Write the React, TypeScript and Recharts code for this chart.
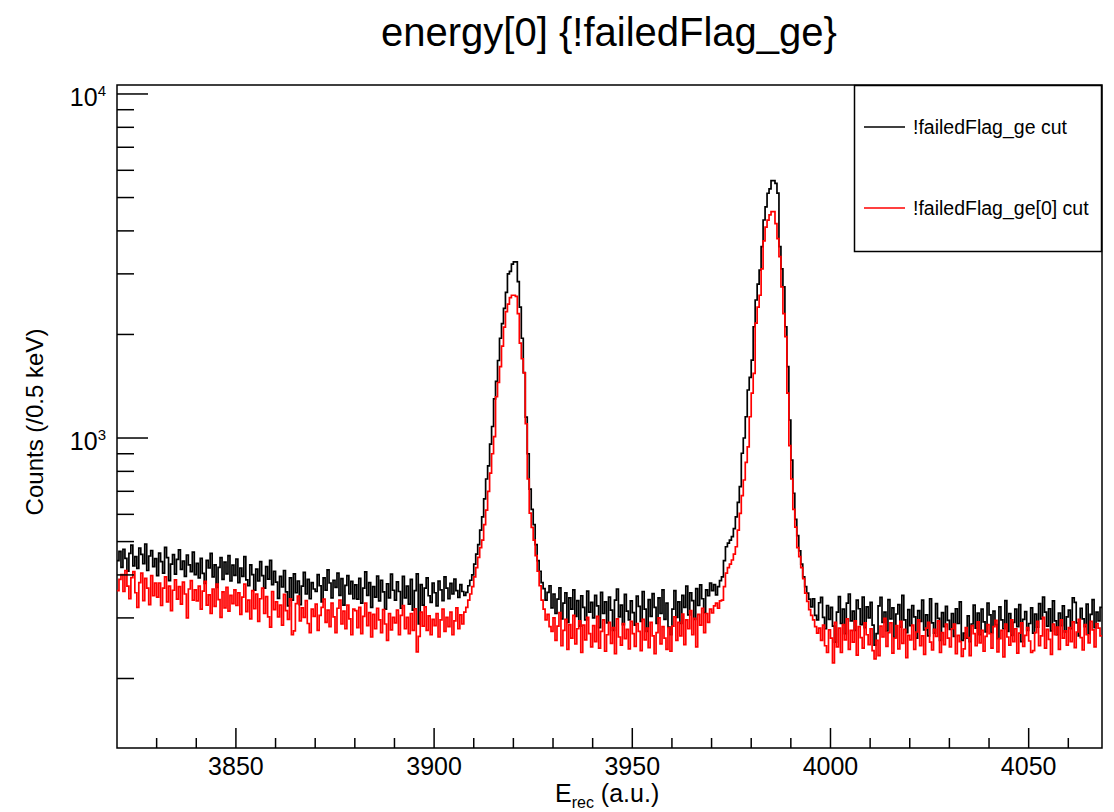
import React from 'react';
import { LineChart, Line, XAxis, YAxis, ReferenceArea } from 'recharts';

const FONT = '"Liberation Sans", Arial, Helvetica, sans-serif';

// histogram binning: 0.5 a.u. per bin starting at 3820
const X_START = 3820;
const BIN_WIDTH = 0.5;
const X_END = 4068.5;
const Y_MIN = 125.6;
const Y_MAX = 10619;

// !failedFlag_ge cut (black)
const countsAll = [
  440, 468, 421, 475, 447, 410, 462, 488, 425, 452, 418, 479, 459, 431, 492, 412, 454, 471, 423, 446,
  398, 463, 437, 405, 481, 449, 385, 430, 458, 402, 444, 473, 415, 439, 396, 457, 428, 409, 466, 401,
  432, 392, 447, 404, 378, 441, 419, 462, 395, 428, 368, 421, 449, 388, 436, 403, 455, 384, 427, 399,
  445, 380, 419, 396, 452, 387, 372, 428, 401, 361, 416, 384, 437, 398, 366, 423, 389, 441, 375, 410,
  381, 342, 396, 369, 412, 357, 325, 392, 338, 403, 355, 384, 328, 371, 407, 352, 388, 341, 380, 364,
  358, 401, 372, 334, 392, 361, 414, 379, 343, 386, 368, 405, 349, 390, 327, 373, 398, 352, 383, 341,
  374, 340, 391, 331, 366, 408, 349, 380, 322, 370, 345, 397, 336, 386, 357, 318, 377, 343, 402, 361,
  338, 382, 358, 320, 396, 343, 371, 329, 388, 316, 360, 403, 288, 375, 327, 366, 392, 348, 333, 379,
  355, 325, 384, 362, 337, 395, 366, 341, 378, 352, 389, 360, 344, 375, 358, 349, 356, 372, 386, 400,
  430, 460, 490, 540, 590, 665, 760, 830, 960, 1080, 1300, 1460, 1680, 1950, 2150, 2380, 2650, 3000, 3050, 3200,
  3250, 3250, 2850, 2400, 1950, 1550, 1150, 900, 710, 620, 560, 490, 440, 410, 380, 365, 338, 356, 372, 321,
  352, 309, 340, 367, 298, 331, 355, 291, 343, 318, 362, 303, 337, 284, 348, 322, 296, 359, 312, 333,
  300, 349, 325, 281, 356, 309, 334, 290, 345, 316, 276, 338, 364, 302, 327, 287, 351, 314, 296, 336,
  311, 286, 347, 324, 293, 358, 318, 274, 339, 303, 353, 322, 289, 343, 309, 362, 297, 331, 282, 268,
  318, 360, 301, 334, 289, 349, 322, 371, 306, 355, 337, 297, 365, 326, 374, 341, 311, 362, 348, 379,
  360, 375, 350, 370, 385, 395, 440, 483, 495, 505, 517, 545, 590, 650, 722, 903, 1000, 1153, 1379, 1500,
  1685, 2106, 2519, 2800, 3078, 3598, 4302, 4700, 5145, 5300, 5600, 5600, 5500, 5150, 3600, 3100, 2750, 2106, 1612, 1128,
  863, 691, 580, 520, 470, 430, 395, 370, 354, 340, 323, 341, 305, 296, 332, 344, 301, 279, 326, 297,
  322, 284, 255, 312, 346, 289, 318, 270, 331, 352, 294, 314, 276, 338, 319, 287, 345, 281, 323, 300,
  333, 286, 250, 270, 325, 344, 291, 312, 275, 339, 298, 321, 263, 308, 328, 282, 349, 296, 272, 317,
  285, 326, 302, 262, 315, 293, 338, 277, 306, 266, 341, 290, 271, 330, 299, 258, 311, 283, 324, 295,
  278, 309, 265, 319, 289, 334, 258, 271, 262, 304, 256, 288, 327, 280, 310, 268, 318, 292, 273, 331,
  306, 272, 314, 287, 261, 323, 296, 279, 337, 274, 309, 267, 291, 318, 283, 328, 256, 297, 313, 276,
  289, 321, 271, 308, 282, 330, 298, 345, 312, 284, 319, 275, 336, 294, 268, 310, 285, 325, 273, 302,
  316, 279, 343, 333, 290, 266, 320, 298, 283, 329, 270, 307, 339, 281, 312, 294, 322,
];

// !failedFlag_ge[0] cut (red)
const countsFirst = [
  360, 388, 401, 358, 412, 371, 341, 393, 409, 355, 322, 380, 405, 337, 391, 366, 328, 398, 348, 379,
  345, 379, 326, 366, 395, 334, 371, 315, 361, 387, 340, 370, 329, 381, 352, 300, 364, 385, 338, 362,
  336, 371, 318, 359, 383, 327, 350, 309, 364, 324, 376, 339, 301, 357, 321, 368, 314, 349, 330, 362,
  326, 355, 307, 345, 376, 313, 338, 298, 360, 319, 352, 293, 341, 366, 309, 346, 302, 282, 358, 317,
  334, 302, 327, 286, 351, 315, 297, 341, 268, 275, 330, 347, 294, 321, 301, 337, 289, 272, 318, 303,
  329, 276, 305, 322, 340, 291, 316, 283, 331, 302, 272, 320, 338, 288, 314, 279, 327, 298, 268, 318,
  315, 281, 322, 270, 303, 331, 285, 311, 264, 307, 279, 320, 296, 272, 317, 288, 258, 309, 277, 301,
  290, 316, 268, 305, 326, 279, 301, 270, 309, 276, 319, 239, 265, 312, 284, 323, 276, 304, 268, 297,
  285, 309, 264, 296, 318, 274, 301, 283, 312, 268, 294, 321, 279, 306, 288, 312, 322, 338, 352, 370,
  395, 420, 450, 480, 505, 560, 617, 700, 791, 900, 1010, 1318, 1450, 1612, 1850, 2100, 2330, 2450, 2560, 2600,
  2600, 2580, 2300, 1887, 1700, 1546, 1100, 760, 605, 550, 505, 455, 410, 372, 338, 318, 296, 307, 283, 274,
  300, 258, 284, 311, 249, 276, 297, 243, 287, 262, 305, 252, 279, 294, 238, 286, 259, 301, 270, 247,
  285, 256, 303, 245, 274, 296, 240, 268, 291, 253, 281, 236, 298, 264, 250, 289, 261, 278, 244, 293,
  270, 248, 289, 274, 241, 297, 259, 280, 246, 291, 266, 236, 272, 300, 252, 283, 262, 243, 281, 240,
  284, 302, 258, 291, 266, 308, 251, 296, 279, 315, 268, 299, 247, 307, 286, 320, 272, 309, 291, 318,
  310, 325, 331, 320, 336, 338, 370, 405, 420, 430, 442, 460, 483, 540, 604, 680, 755, 850, 943, 1153,
  1350, 1542, 2157, 2400, 2600, 3100, 3740, 4100, 4300, 4450, 4550, 4550, 4200, 3800, 3365, 2750, 2300, 1970, 1350, 950,
  760, 620, 551, 480, 452, 420, 390, 354, 335, 317, 305, 296, 283, 271, 280, 258, 286, 249, 238, 277,
  262, 222, 291, 247, 280, 238, 287, 259, 298, 243, 276, 255, 294, 234, 283, 263, 245, 290, 268, 251,
  279, 241, 228, 258, 233, 284, 264, 299, 248, 272, 290, 237, 262, 285, 244, 293, 253, 278, 230, 267,
  259, 286, 243, 273, 296, 249, 266, 235, 280, 291, 255, 242, 278, 265, 294, 238, 272, 251, 288, 262,
  247, 279, 288, 236, 267, 256, 232, 244, 281, 263, 233, 285, 270, 249, 292, 254, 276, 240, 265, 287,
  270, 245, 283, 295, 239, 261, 276, 231, 288, 264, 250, 296, 256, 279, 237, 271, 290, 248, 267, 281,
  257, 238, 241, 272, 293, 249, 266, 301, 245, 278, 260, 235, 288, 268, 282, 243, 296, 262, 275, 250,
  281, 256, 292, 246, 273, 297, 263, 242, 287, 268, 254, 293, 277, 247, 289, 280, 266,
];

const xTicks = [
  3830, 3840, 3850, 3860, 3870, 3880, 3890, 3900, 3910, 3920, 3930, 3940, 3950,
  3960, 3970, 3980, 3990, 4000, 4010, 4020, 4030, 4040, 4050, 4060,
];
const yTicks = [
  200, 300, 400, 500, 600, 700, 800, 900, 1000,
  2000, 3000, 4000, 5000, 6000, 7000, 8000, 9000, 10000,
];

// step-after points on the low bin edges, plus one closing point at the right edge
const data = countsAll.map((v, i) => ({
  x: X_START + i * BIN_WIDTH,
  all: v,
  first: countsFirst[i],
}));
data.push({
  x: X_START + countsAll.length * BIN_WIDTH,
  all: countsAll[countsAll.length - 1],
  first: countsFirst[countsFirst.length - 1],
});

const XTick = (props: any) => {
  const { x, y, payload } = props;
  const major = payload.value % 50 === 0;
  return (
    <g>
      <line x1={x} x2={x} y1={y} y2={y - (major ? 20 : 10)} stroke="#000" strokeWidth={1.5} />
      {major && (
        <text x={x} y={y + 27} textAnchor="middle" fontSize={25} fontFamily={FONT} fill="#000">
          {payload.value}
        </text>
      )}
    </g>
  );
};

const YTick = (props: any) => {
  const { x, y, payload } = props;
  const exp = Math.round(Math.log10(payload.value));
  const major = Math.abs(Math.pow(10, exp) - payload.value) < 1e-6;
  return (
    <g>
      <line x1={x} x2={x + (major ? 31 : 17)} y1={y} y2={y} stroke="#000" strokeWidth={1.5} />
      {major && (
        <text x={x - 11} y={y + 12} textAnchor="end" fontSize={25} fontFamily={FONT} fill="#000">
          10<tspan dy={-10} fontSize={15}>{exp}</tspan>
        </text>
      )}
    </g>
  );
};

export default function App() {
  return (
    <div style={{ position: 'absolute', left: 0, top: 0, width: 1114, height: 812, background: '#fff' }}>
      <LineChart
        width={1114}
        height={812}
        data={data}
        margin={{ top: 85, right: 12, bottom: 34, left: 57 }}
      >
        <XAxis
          dataKey="x"
          type="number"
          domain={[X_START, X_END]}
          allowDataOverflow
          ticks={xTicks}
          interval={0}
          tick={<XTick />}
          tickSize={0}
          tickMargin={0}
          axisLine={false}
          tickLine={false}
          height={30}
        />
        <YAxis
          scale="log"
          domain={[Y_MIN, Y_MAX]}
          allowDataOverflow
          ticks={yTicks}
          interval={0}
          tick={<YTick />}
          tickSize={0}
          tickMargin={0}
          axisLine={false}
          tickLine={false}
          width={60}
        />
        <ReferenceArea
          x1={X_START}
          x2={X_END}
          y1={Y_MIN}
          y2={Y_MAX}
          fill="none"
          stroke="#000"
          strokeWidth={1.5}
        />
        <Line
          dataKey="all"
          type="stepAfter"
          stroke="#000"
          strokeWidth={1.7}
          dot={false}
          isAnimationActive={false}
        />
        <Line
          dataKey="first"
          type="stepAfter"
          stroke="#ff0000"
          strokeWidth={1.7}
          dot={false}
          isAnimationActive={false}
        />
      </LineChart>

      {/* title, axis titles and legend box */}
      <svg
        width={1114}
        height={812}
        style={{ position: 'absolute', left: 0, top: 0, pointerEvents: 'none' }}
        fontFamily={FONT}
      >
        <text x={609} y={46} textAnchor="middle" fontSize={40} fill="#000">
          energy[0] {'{!failedFlag_ge}'}
        </text>
        <text
          x={43}
          y={422}
          textAnchor="middle"
          fontSize={24}
          fill="#000"
          transform="rotate(-90 43 422)"
        >
          Counts (/0.5 keV)
        </text>
        <text x={555} y={802} fontSize={25} fill="#000">
          E<tspan dy={6} fontSize={16}>rec</tspan>
          <tspan dy={-6}> (a.u.)</tspan>
        </text>

        <rect x={854.5} y={85.5} width={247} height={166} fill="#fff" stroke="#000" strokeWidth={1.5} />
        <line x1={864} x2={905} y1={127} y2={127} stroke="#000" strokeWidth={1.6} />
        <text x={913} y={134} fontSize={19.5} fill="#000">!failedFlag_ge cut</text>
        <line x1={864} x2={905} y1={208} y2={208} stroke="#ff0000" strokeWidth={1.6} />
        <text x={913} y={215} fontSize={19.5} fill="#000">!failedFlag_ge[0] cut</text>
      </svg>
    </div>
  );
}
